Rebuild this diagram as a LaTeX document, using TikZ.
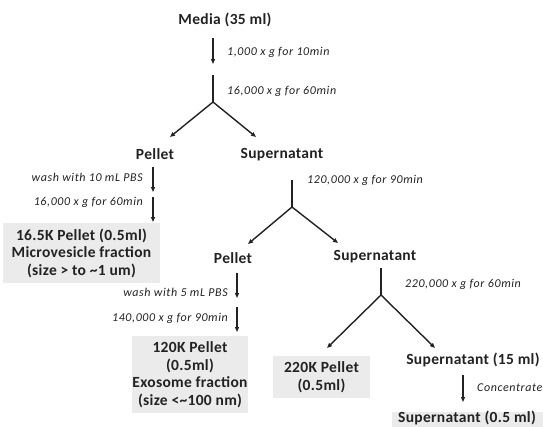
\documentclass[tikz,border=0pt]{standalone}
\usepackage{fontspec}
\setmainfont{Carlito}
\newfontfamily\labfont[LetterSpace=2]{Carlito}
\newfontfamily\condfont[LetterSpace=5]{Carlito}
\usetikzlibrary{arrows.meta}
\definecolor{boxgray}{HTML}{EBEBEB}
\definecolor{ink}{HTML}{222222}
\tikzset{
  lab/.style={font=\labfont\fontsize{15.5}{17.5}\selectfont\bfseries, inner sep=0pt, text=ink, align=center},
  cond/.style={font=\condfont\fontsize{12}{14}\selectfont\itshape, inner sep=0pt, text=ink},
  fracbox/.style={lab, fill=boxgray},
  arr/.style={-{Triangle[length=5pt,width=4pt]}, line width=1.1pt, draw=ink},
  ln/.style={line width=1.1pt, draw=ink},
  darr/.style={-{Triangle[length=5pt,width=4pt]}, line width=1.4pt, draw=ink},
}
\begin{document}
\begin{tikzpicture}[x=1pt,y=-1pt]
\useasboundingbox (0,0) rectangle (543,426);
% level 1
\node[lab] (media) at (225,20) {Media (35 ml)};
\coordinate (a1s) at (213,38);
\coordinate (a1e) at (213,64);
\draw[arr] (a1s) -- (a1e);
\node[cond, anchor=west] (c1) at (227,52) {1,000 x g for 10min};
\coordinate (l2s) at (213,75);
\coordinate (s1) at (213,102);
\draw[ln] (l2s) -- (s1);
\node[cond, anchor=west] (c2) at (227,91) {16,000 x g for 60min};
\coordinate (t1l) at (170,137);
\coordinate (t1r) at (256,137);
\draw[darr] (s1) -- (t1l);
\draw[darr] (s1) -- (t1r);
\node[lab] (pel1) at (155,154) {Pellet};
\node[lab] (sup1) at (282,155) {Supernatant};
% pellet 1 branch
\coordinate (p1a) at (153,167);
\coordinate (p1b) at (153,192);
\coordinate (p1c) at (153,197);
\coordinate (p1d) at (153,222);
\draw[arr] (p1a) -- (p1b);
\draw[arr] (p1c) -- (p1d);
\node[cond, anchor=east] (c3) at (143,177) {wash with 10 mL PBS};
\node[cond, anchor=east] (c4) at (143,202) {16,000 x g for 60min};
\node[fracbox, minimum width=157pt, minimum height=60pt] (box1) at (81.5,253)
  {16.5K Pellet (0.5ml)\\Microvesicle fraction\\(size > to \textasciitilde1 um)};
% supernatant 1 branch
\coordinate (q1a) at (292,180);
\coordinate (s2) at (292,207);
\draw[ln] (q1a) -- (s2);
\node[cond, anchor=west] (c5) at (307,180) {120,000 x g for 90min};
\coordinate (t2l) at (248,244);
\coordinate (t2r) at (338,243);
\draw[darr] (s2) -- (t2l);
\draw[darr] (s2) -- (t2r);
\node[lab] (pel2) at (233,258) {Pellet};
\node[lab] (sup2) at (375,257) {Supernatant};
% pellet 2 branch
\coordinate (p2a) at (237,273);
\coordinate (p2b) at (237,298);
\coordinate (p2c) at (237,307);
\coordinate (p2d) at (237,332);
\draw[arr] (p2a) -- (p2b);
\draw[arr] (p2c) -- (p2d);
\node[cond, anchor=east] (c6) at (228,292) {wash with 5 mL PBS};
\node[cond, anchor=east] (c7) at (228,318) {140,000 x g for 90min};
\node[fracbox, minimum width=114pt, minimum height=77pt] (box2) at (190,374.5)
  {120K Pellet\\(0.5ml)\\Exosome fraction\\(size <\textasciitilde100 nm)};
% supernatant 2 branch
\coordinate (q2a) at (381,268);
\coordinate (s3) at (381,295);
\draw[ln] (q2a) -- (s3);
\node[cond, anchor=west] (c8) at (405,284) {220,000 x g for 60min};
\coordinate (t3l) at (327,348);
\coordinate (t3r) at (435,348);
\draw[darr] (s3) -- (t3l);
\draw[darr] (s3) -- (t3r);
\node[fracbox, minimum width=97pt, minimum height=42pt] (box3) at (321.5,377)
  {220K Pellet\\(0.5ml)};
\node[lab] (sup3) at (473,360) {Supernatant (15 ml)};
\coordinate (r1) at (463,375);
\coordinate (r2) at (463,402);
\draw[arr] (r1) -- (r2);
\node[cond, anchor=west] (c9) at (477,388) {Concentrate};
\fill[boxgray] (392,412) rectangle (545,430);
\node[lab, anchor=base] (sup4) at (467,422.5) {Supernatant (0.5 ml)};
\end{tikzpicture}
\end{document}
